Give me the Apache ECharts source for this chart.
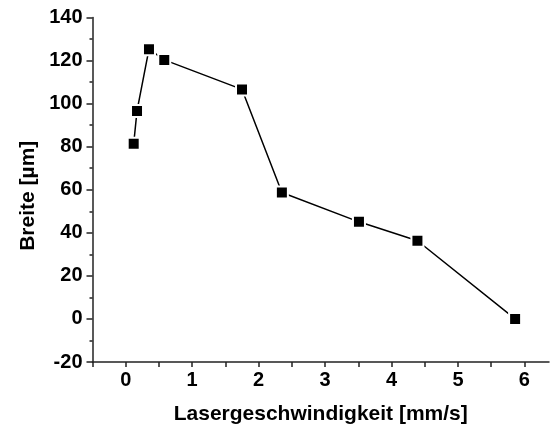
<!DOCTYPE html>
<html>
<head>
<meta charset="utf-8">
<script src="https://cdn.jsdelivr.net/npm/echarts@6/dist/echarts.min.js"></script>
<style>
  html, body { margin: 0; padding: 0; background: #fff; }
  #main { width: 550px; height: 432px; }
</style>
</head>
<body>
<div id="main"></div>
<script>
// Messwerte
const speed = [0.12, 0.17, 0.35, 0.58, 1.75, 2.35, 3.51, 4.39, 5.86];
const width = [81.4, 96.6, 125.3, 120.3, 106.6, 58.7, 45.1, 36.3, 0];

const chart = echarts.init(document.getElementById('main'));

const font = 'Liberation Sans, Arial, sans-serif';

const option = {
  animation: false,
  grid: { left: 92.5, top: 17.5, right: 1, bottom: 70 },
  xAxis: {
    type: 'value',
    min: -0.5,
    max: 6.37,
    interval: 0.5,
    name: 'Lasergeschwindigkeit [mm/s]',
    nameLocation: 'middle',
    nameGap: 42,
    nameTextStyle: { fontFamily: font, fontWeight: 'bold', fontSize: 21, color: '#000' },
    axisLine: { show: true, onZero: false, lineStyle: { color: '#222', width: 1.5 } },
    axisTick: { show: true, inside: false, length: 5, lineStyle: { color: '#222', width: 1.5 } },
    axisLabel: {
      fontFamily: font, fontWeight: 'bold', fontSize: 20, color: '#000', margin: 8,
      showMinLabel: true, showMaxLabel: false,
      formatter: v => (Math.abs(v - Math.round(v)) < 1e-6 ? String(Math.round(v)) : '')
    },
    splitLine: { show: false }
  },
  yAxis: {
    type: 'value',
    min: -20,
    max: 140,
    interval: 20,
    name: 'Breite [µm]',
    nameLocation: 'middle',
    nameGap: 54,
    nameTextStyle: {
      fontFamily: font, fontWeight: 'bold', fontSize: 21, color: '#000',
      padding: [0, 12, 0, 0]
    },
    axisLine: { show: true, onZero: false, lineStyle: { color: '#222', width: 1.5 } },
    axisTick: { show: true, inside: false, length: 6, lineStyle: { color: '#222', width: 1.5 } },
    minorTick: { show: true, splitNumber: 2, length: 3, lineStyle: { color: '#222', width: 1.5 } },
    axisLabel: { fontFamily: font, fontWeight: 'bold', fontSize: 20, color: '#000', margin: 10 },
    splitLine: { show: false }
  },
  series: [
    {
      type: 'line',
      data: speed.map((s, i) => [s, width[i]]),
      symbol: 'rect',
      symbolSize: 12,
      showAllSymbol: true,
      lineStyle: { color: '#000', width: 1.5 },
      itemStyle: { color: '#000', borderColor: '#fff', borderWidth: 2 }
    }
  ]
};

chart.setOption(option);
</script>
</body>
</html>
